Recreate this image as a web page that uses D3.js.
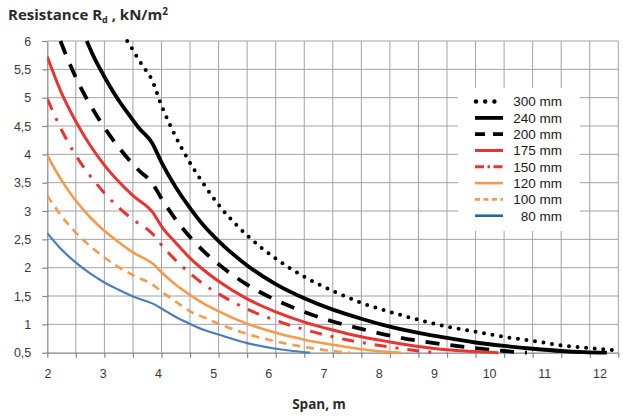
<!DOCTYPE html>
<html><head><meta charset="utf-8">
<script src="https://cdn.jsdelivr.net/npm/d3@7/dist/d3.min.js"></script>
<style>body{margin:0;background:#fff;} svg{display:block;}</style>
</head><body>
<svg id="chart" width="623" height="418"></svg>
<script>
// ---- data ----
const xTickValues = [2,3,4,5,6,7,8,9,10,11,12];
const yTickValues = [0.5,1,1.5,2,2.5,3,3.5,4,4.5,5,5.5,6];
const seriesNames = ["300 mm","240 mm","200 mm","175 mm","150 mm","120 mm","100 mm","80 mm"];

const span300 = [3.40,3.5,3.6,3.7,3.82,4.0,4.25,4.5,4.75,5,5.5,6,6.5,7,7.5,8,8.5,9,9.5,10,10.5,11,11.5,12];
const res300  = [6.0,5.84,5.67,5.52,5.34,4.86,4.31,3.85,3.46,3.11,2.57,2.16,1.84,1.59,1.38,1.22,1.08,0.96,0.87,0.78,0.71,0.63,0.58,0.54];

const span240 = [2.69,2.8,3.0,3.2,3.4,3.6,3.83,4.0,4.25,4.5,4.75,5,5.5,6,6.5,7,7.5,8,8.5,9,9.5,10,10.5,11,11.4,11.8];
const res240  = [6.0,5.75,5.37,5.03,4.74,4.47,4.21,3.86,3.42,3.05,2.73,2.47,2.04,1.71,1.46,1.26,1.10,0.96,0.85,0.76,0.68,0.62,0.57,0.53,0.51,0.50];

const span200 = [2.23,2.4,2.6,2.8,3.0,3.2,3.4,3.6,3.84,4.0,4.25,4.5,4.75,5,5.5,6,6.5,7,7.5,8,8.5,9,9.5,10,10.4];
const res200  = [6.0,5.58,5.15,4.79,4.47,4.19,3.94,3.72,3.49,3.22,2.85,2.54,2.28,2.06,1.70,1.43,1.22,1.05,0.92,0.80,0.71,0.64,0.58,0.53,0.50];

const span175 = [2.0,2.25,2.5,2.75,3.0,3.25,3.5,3.85,4.0,4.25,4.5,4.75,5,5.5,6,6.5,7,7.5,8,8.5,9,9.5,9.9];
const res175  = [5.72,5.08,4.58,4.16,3.81,3.52,3.27,2.97,2.73,2.44,2.17,1.95,1.76,1.45,1.22,1.04,0.90,0.78,0.69,0.61,0.55,0.52,0.50];

const span150 = [2.0,2.25,2.5,2.75,3.0,3.25,3.5,3.85,4.0,4.25,4.5,4.75,5,5.5,6,6.5,7,7.5,8,8.5,8.8];
const res150  = [4.98,4.43,3.98,3.62,3.32,3.06,2.85,2.59,2.40,2.13,1.90,1.70,1.54,1.27,1.07,0.91,0.78,0.68,0.60,0.53,0.50];

const span120 = [2.0,2.25,2.5,2.75,3.0,3.25,3.5,3.86,4.0,4.25,4.5,4.75,5,5.5,6,6.5,7,7.5,8,8.2];
const res120  = [3.98,3.54,3.18,2.89,2.65,2.45,2.27,2.06,1.92,1.70,1.52,1.36,1.23,1.01,0.85,0.73,0.64,0.56,0.51,0.50];

const span100 = [2.0,2.25,2.5,2.75,3.0,3.25,3.5,3.86,4.0,4.25,4.5,4.75,5,5.5,6,6.5,7,7.3];
const res100  = [3.27,2.91,2.62,2.38,2.18,2.01,1.87,1.69,1.58,1.40,1.23,1.12,1.01,0.83,0.70,0.60,0.53,0.50];

const span80 = [2.0,2.25,2.5,2.75,3.0,3.25,3.5,3.9,4.0,4.25,4.5,4.75,5,5.5,6,6.3,6.6];
const res80  = [2.61,2.32,2.09,1.90,1.74,1.61,1.49,1.34,1.28,1.13,1.01,0.90,0.82,0.67,0.57,0.53,0.50];

const seriesSpans = [span300,span240,span200,span175,span150,span120,span100,span80];
const seriesRes   = [res300,res240,res200,res175,res150,res120,res100,res80];

// ---- styles ----
const RED = "#ea3430", ORANGE = "#f79a4e", BLUE = "#4a7cc0", BLACK = "#000";
const styles = [
  {color:BLACK,  w:4,   dash:"0,8.6", cap:"round", ldash:"0,9.2",   lw:4.5},
  {color:BLACK,  w:3.8, dash:null,    cap:"butt",  ldash:null,      lw:3.8},
  {color:BLACK,  w:3.8, dash:"14,11", cap:"butt",  ldash:"10,8",    lw:3.8},
  {color:RED,    w:3,   dash:null,    cap:"butt",  ldash:null,      lw:3},
  {color:RED,    w:3,   dash:"12,9,3,9", cap:"butt", ldash:"9,3.5,2.5,3.5,9", lw:3},
  {color:ORANGE, w:2.6, dash:null,    cap:"butt",  ldash:null,      lw:2.6},
  {color:ORANGE, w:2.6, dash:"8,6",   cap:"butt",  ldash:"5,3.5",   lw:2.6},
  {color:BLUE,   w:2.2, dash:null,    cap:"butt",  ldash:null,      lw:2.6, lcolor:"#1f6a9f"}
];

const svg = d3.select("#chart");
const x = d3.scaleLinear().domain([2,12]).range([47.3,618.3]);
const xLabel = d3.scaleLinear().domain([2,12]).range([47.5,599.5]);
const y = d3.scaleLinear().domain([0.5,6]).range([352.7,41]);

const halfSteps = d3.range(2,12.001,0.5);
const gridColor = "#a3a3a3";
// grid
svg.append("g").selectAll("line.v").data(halfSteps.filter(d=>d>2)).join("line")
  .attr("x1",d=>x(d)).attr("x2",d=>x(d)).attr("y1",y(6)).attr("y2",y(0.5))
  .attr("stroke",gridColor).attr("stroke-width",1);
svg.append("g").selectAll("line.h").data(yTickValues.filter(d=>d>0.5)).join("line")
  .attr("x1",x(2)).attr("x2",x(12)).attr("y1",d=>y(d)).attr("y2",d=>y(d))
  .attr("stroke",gridColor).attr("stroke-width",1);

// axes
const axisColor = "#858585";
const gx = svg.append("g").attr("transform",`translate(0,${y(0.5)})`)
  .call(d3.axisBottom(x).tickValues(halfSteps).tickSize(5).tickSizeOuter(0).tickFormat(""));
gx.selectAll("path,line").attr("stroke",axisColor).attr("stroke-width",1.2);

const gxl = svg.append("g").attr("transform",`translate(0,${y(0.5)})`)
  .call(d3.axisBottom(xLabel).tickValues(xTickValues).tickSize(0).tickPadding(16).tickFormat(d3.format("d")));
gxl.select(".domain").remove();
gxl.selectAll("text").attr("font-family","'Liberation Sans', Arial, sans-serif").attr("font-size",12.5).attr("fill","#3a3a3a");

const gy = svg.append("g").attr("transform",`translate(${x(2)},0)`)
  .call(d3.axisLeft(y).tickValues(yTickValues).tickSize(5).tickSizeOuter(0).tickPadding(11)
    .tickFormat(d=>String(d).replace(".",",")));
gy.selectAll("path,line").attr("stroke",axisColor).attr("stroke-width",1.2);
gy.selectAll("text").attr("font-family","'Liberation Sans', Arial, sans-serif").attr("font-size",12.5).attr("fill","#3a3a3a");

// clip
svg.append("clipPath").attr("id","plotclip").append("rect")
  .attr("x",x(2)).attr("y",y(6)-3).attr("width",x(12)-x(2)+4).attr("height",y(0.5)-y(6)+6);

const line = d3.line().x(d=>x(d[0])).y(d=>y(d[1])).curve(d3.curveMonotoneX);
const lines = svg.append("g").attr("clip-path","url(#plotclip)");
seriesNames.forEach((name,i)=>{
  const st = styles[i];
  const pts = seriesSpans[i].map((s,k)=>[s,seriesRes[i][k]]);
  lines.append("path").datum(pts).attr("d",line)
    .attr("fill","none").attr("stroke",st.color).attr("stroke-width",st.w)
    .attr("stroke-linecap",st.cap).attr("stroke-linejoin","round")
    .attr("stroke-dasharray",st.dash);
});

// legend
const lg = svg.append("g");
lg.append("rect").attr("x",458).attr("y",88).attr("width",122).attr("height",143).attr("fill","#fff");
seriesNames.forEach((name,i)=>{
  const st = styles[i];
  const cy = 101.6 + i*16.3;
  lg.append("line").attr("x1",st.cap==="round"?476:475).attr("x2",503).attr("y1",cy).attr("y2",cy)
    .attr("stroke",st.lcolor||st.color).attr("stroke-width",st.lw)
    .attr("stroke-linecap",st.cap).attr("stroke-dasharray",st.ldash);
  lg.append("text").attr("x",562).attr("y",cy).attr("dy","0.36em").attr("text-anchor","end")
    .attr("font-family","'Liberation Sans', Arial, sans-serif").attr("font-size",13.5).attr("fill","#1a1a1a")
    .text(name);
});

// titles
const t = svg.append("text").attr("x",8).attr("y",19.5)
  .attr("font-family","'Open Sans', sans-serif").attr("font-weight",700).attr("font-size",15).attr("fill","#2b2b2b");
t.append("tspan").text("Resistance R");
t.append("tspan").attr("font-size",9).attr("dy",3.5).text("d");
t.append("tspan").attr("dy",-3.5).text(" , kN/m");
t.append("tspan").attr("font-size",10).attr("dy",-5).text("2");

svg.append("text").attr("x",319).attr("y",409).attr("text-anchor","middle")
  .attr("font-family","'Open Sans', sans-serif").attr("font-weight",700).attr("font-size",13.5).attr("fill","#2b2b2b")
  .text("Span, m");
</script>
</body></html>
